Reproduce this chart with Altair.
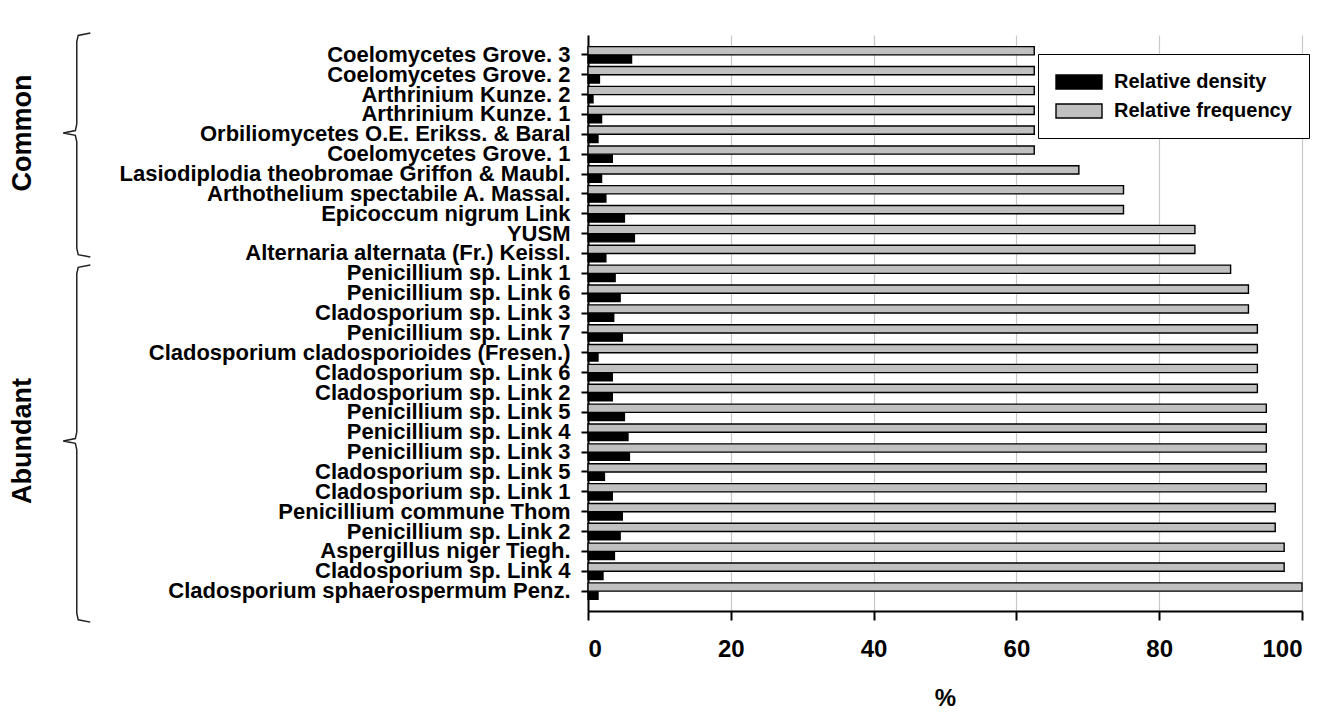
import altair as alt
import pandas as pd

# ---------------- data ----------------
species = [
    "Coelomycetes Grove. 3",
    "Coelomycetes Grove. 2",
    "Arthrinium Kunze. 2",
    "Arthrinium Kunze. 1",
    "Orbiliomycetes O.E. Erikss. & Baral",
    "Coelomycetes Grove. 1",
    "Lasiodiplodia theobromae Griffon & Maubl.",
    "Arthothelium spectabile A. Massal.",
    "Epicoccum nigrum Link",
    "YUSM",
    "Alternaria alternata (Fr.) Keissl.",
    "Penicillium sp. Link 1\u00a0",
    "Penicillium sp. Link 6",
    "Cladosporium sp. Link 3",
    "Penicillium sp. Link 7",
    "Cladosporium cladosporioides (Fresen.)\u00a0",
    "Cladosporium sp. Link 6",
    "Cladosporium sp. Link 2",
    "Penicillium sp. Link 5",
    "Penicillium sp. Link 4",
    "Penicillium sp. Link 3",
    "Cladosporium sp. Link 5",
    "Cladosporium sp. Link 1",
    "Penicillium commune Thom",
    "Penicillium sp. Link 2",
    "Aspergillus niger Tiegh.",
    "Cladosporium sp. Link 4",
    "Cladosporium sphaerospermum Penz.\u00a0",
]
rel_density = [6.1, 1.6, 0.7, 1.9, 1.4, 3.4, 1.9, 2.5, 5.1, 6.5, 2.5, 3.8, 4.5, 3.6,
               4.8, 1.4, 3.4, 3.4, 5.1, 5.6, 5.8, 2.3, 3.4, 4.8, 4.5, 3.7, 2.1, 1.4]
rel_frequency = [62.5, 62.5, 62.5, 62.5, 62.5, 62.5, 68.75, 75, 75, 85, 85, 90, 92.5, 92.5,
                 93.75, 93.75, 93.75, 93.75, 95, 95, 95, 95, 95, 96.25, 96.25, 97.5, 97.5, 100]
series = ["Relative density", "Relative frequency"]
series_colors = ["#000000", "#c0c0c0"]
x_ticks = [0, 20, 40, 60, 80, 100]

# group brackets (in row units: row i sits at position i)
group_names = ["Common", "Abundant"]
brace_top = [-1.1, 10.58]
brace_tip = [3.93, 19.44]
brace_bottom = [10.18, 28.56]
brace_spine_x = -71.6
brace_hook_x = -69.7
brace_tip_x = -73.5
group_label_x = -79.2

# ---------------- tables ----------------
rows = []
for i, sp in enumerate(species):
    rows.append({"species": sp, "measure": series[0], "value": rel_density[i]})
    rows.append({"species": sp, "measure": series[1], "value": rel_frequency[i]})
bars_df = pd.DataFrame(rows)

brace_rows = []
for g, top, tip, bot in zip(group_names, brace_top, brace_tip, brace_bottom):
    pts = [
        (brace_hook_x, top),
        (brace_spine_x + 0.2, top + 0.12),
        (brace_spine_x, top + 0.45),
        (brace_spine_x, tip - 0.45),
        (brace_spine_x - 0.2, tip - 0.12),
        (brace_tip_x, tip),
        (brace_spine_x - 0.2, tip + 0.12),
        (brace_spine_x, tip + 0.45),
        (brace_spine_x, bot - 0.45),
        (brace_spine_x + 0.2, bot - 0.12),
        (brace_hook_x, bot),
    ]
    for k, (bx, by) in enumerate(pts):
        brace_rows.append({"group": g, "seq": k, "bx": bx, "by": by})
brace_df = pd.DataFrame(brace_rows)
group_df = pd.DataFrame({"group": group_names, "tx": [group_label_x] * 2, "ty": brace_tip})

LBL = "Liberation Sans"
NARROW = "Liberation Sans Narrow, Arial Narrow, Liberation Sans"

x_scale = alt.Scale(domain=[0, 100], nice=False, zero=True)
row_scale = alt.Scale(domain=[-1, 28], reverse=True, nice=False, zero=False)

bars = alt.Chart(bars_df).mark_bar(stroke="#000000", strokeWidth=1.4).encode(
    x=alt.X("value:Q", scale=x_scale, title="%",
            axis=alt.Axis(values=x_ticks, grid=True, gridColor="#c8c8c8", gridWidth=1.2,
                          domainColor="#000000", domainWidth=2, tickColor="#000000", tickWidth=2,
                          tickSize=9, labelFont=NARROW, labelFontSize=24, labelFontWeight="bold",
                          labelColor="#000000", labelPadding=17, titleFont=NARROW, titleFontSize=24,
                          titleFontWeight="bold", titleColor="#000000", titlePadding=25)),
    y=alt.Y("species:N", sort=species,
            scale=alt.Scale(paddingInner=0.17, paddingOuter=0.585),
            axis=alt.Axis(title=None, grid=False, domainColor="#000000", domainWidth=2,
                          tickColor="#000000", tickWidth=2, tickSize=7, labelFont=LBL,
                          labelFontSize=22, labelFontWeight="bold", labelColor="#000000",
                          labelPadding=11, labelLimit=0)),
    yOffset=alt.YOffset("measure:N", sort=[series[1], series[0]],
                        scale=alt.Scale(paddingInner=0, paddingOuter=0)),
    color=alt.Color("measure:N", scale=alt.Scale(domain=series, range=series_colors),
                    legend=alt.Legend(title=None, orient="none", legendX=450, legendY=19,
                                      fillColor="#ffffff", strokeColor="#000000", padding=17,
                                      symbolType="M-2.3,-0.7H2.3V0.7H-2.3Z", symbolSize=400,
                                      symbolOffset=13, symbolStrokeColor="#000000",
                                      symbolStrokeWidth=1.4, symbolOpacity=1,
                                      labelOffset=24, rowPadding=8, labelFont=LBL,
                                      labelFontSize=20, labelFontWeight="bold",
                                      labelColor="#000000", labelLimit=0)),
)

brace = alt.Chart(brace_df).mark_line(color="#222222", strokeWidth=1.5, clip=False).encode(
    x=alt.X("bx:Q", scale=x_scale, title="%"),
    y=alt.Y("by:Q", scale=row_scale, axis=None),
    order=alt.Order("seq:Q"),
    detail="group:N",
)

group_labels = alt.Chart(group_df).mark_text(
    angle=270, font=LBL, fontSize=27, fontWeight="bold", color="#000000",
    align="center", baseline="middle", clip=False,
).encode(
    x=alt.X("tx:Q", scale=x_scale, title="%"),
    y=alt.Y("ty:Q", scale=row_scale, axis=None),
    text="group:N",
)

chart = alt.layer(bars, brace, group_labels).resolve_scale(y="independent").properties(
    width=714, height=576,
    autosize=alt.AutoSizeParams(type="none"),
    padding={"left": 580, "top": 27, "right": 30, "bottom": 100},
).configure_view(stroke=None)

chart.save("out.html", embed_options={"renderer": "svg", "actions": False})
